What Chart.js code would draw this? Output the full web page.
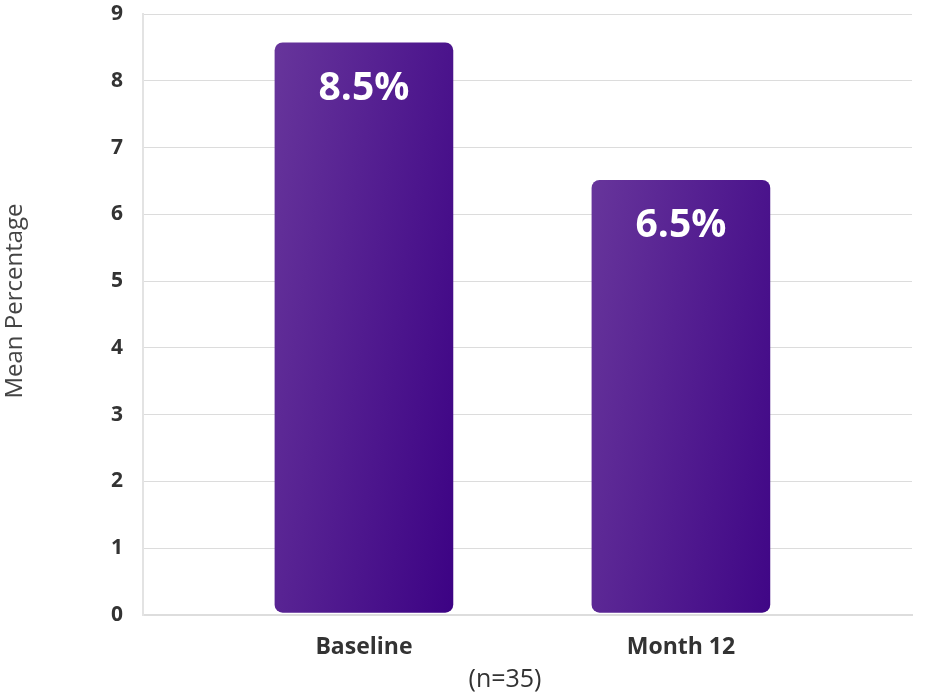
<!DOCTYPE html>
<html>
<head>
<meta charset="utf-8">
<script src="https://cdn.jsdelivr.net/npm/chart.js@4.4.0/dist/chart.umd.min.js"></script>
<style>
  html, body { margin: 0; padding: 0; background: #fff; }
  #wrap { width: 950px; height: 694px; }
</style>
</head>
<body>
<div id="wrap"><canvas id="barChart"></canvas></div>
<script>
// data
var categories = ["Baseline", "Month 12"];
var meanValues = [8.57, 6.51];
var valueLabels = ["8.5%", "6.5%"];
var yTicks = [0, 1, 2, 3, 4, 5, 6, 7, 8, 9];
var yTitle = "Mean Percentage";
var sampleNote = "(n=35)";

var FONT = "'Open Sans', sans-serif";
var BAR_W = 178;

// purple gradient per bar (lighter top-left, darker bottom-right), built from the scales
function barGradient(ctx) {
  var chart = ctx.chart;
  if (!chart.chartArea || ctx.dataIndex === undefined) return "#4b1690";
  var xs = chart.scales.x, ys = chart.scales.y;
  var left = xs.getPixelForValue(ctx.dataIndex) - BAR_W / 2;
  var top = ys.getPixelForValue(meanValues[ctx.dataIndex]);
  var g = chart.ctx.createLinearGradient(left, top, left + 263, top + 42);
  g.addColorStop(0, "#67359b");
  g.addColorStop(1, "#3c0284");
  return g;
}

var textPlugin = {
  id: "extraText",
  afterDatasetsDraw: function (chart) {
    var c = chart.ctx;
    var meta = chart.getDatasetMeta(0);
    c.save();
    c.fillStyle = "#ffffff";
    c.font = "bold 39px " + FONT;
    c.textAlign = "center";
    c.textBaseline = "middle";
    meta.data.forEach(function (bar, i) {
      c.fillText(valueLabels[i], bar.x, bar.y + 46);
    });
    // sample size under the axis
    c.fillStyle = "#333333";
    c.font = "25px " + FONT;
    c.fillText(sampleNote, 505, 680);
    // y axis title
    c.translate(15, 301);
    c.rotate(-Math.PI / 2);
    c.fillStyle = "#444444";
    c.font = "24px " + FONT;
    c.fillText(yTitle, 0, 0);
    c.restore();
  }
};

var ctxB = document.getElementById("barChart").getContext("2d");
var chart = new Chart(ctxB, {
  type: "bar",
  data: {
    datasets: [
      {
        label: yTitle,
        data: meanValues.map(function (v, i) { return { x: i, y: v }; }),
        backgroundColor: barGradient,
        barThickness: BAR_W,
        borderRadius: 8,
        borderSkipped: false,
        base: 0.04
      }
    ]
  },
  plugins: [textPlugin],
  options: {
    responsive: true,
    maintainAspectRatio: false,
    animation: false,
    layout: { padding: { top: 14, right: 38, bottom: 0, left: 0 } },
    plugins: {
      legend: { display: false },
      tooltip: { enabled: false }
    },
    scales: {
      x: {
        type: "linear",
        offset: false,
        min: -0.697,
        max: 1.729,
        afterBuildTicks: function (scale) {
          scale.ticks = categories.map(function (c, i) { return { value: i }; });
        },
        afterFit: function (scale) {
          scale.height = 79;
          scale.paddingLeft = 0;
          scale.paddingRight = 0;
        },
        ticks: {
          callback: function (v) { return categories[v]; },
          color: "#333333",
          font: { family: FONT, size: 23, weight: "bold" },
          padding: 11,
          maxRotation: 0
        },
        grid: { display: false },
        border: { display: true, color: "#dddddd", width: 2 }
      },
      y: {
        min: 0,
        max: 9,
        afterBuildTicks: function (scale) {
          scale.ticks = yTicks.map(function (v) { return { value: v }; });
        },
        afterFit: function (scale) {
          scale.width = 143;
          scale.paddingTop = 0;
          scale.paddingBottom = 0;
        },
        ticks: {
          color: "#333333",
          font: { family: FONT, size: 21, weight: "bold" },
          padding: 20
        },
        grid: { color: "#dcdcdc", lineWidth: 1, drawTicks: false },
        border: { display: true, color: "#e3e3e3", width: 2 }
      }
    }
  }
});
</script>
</body>
</html>
